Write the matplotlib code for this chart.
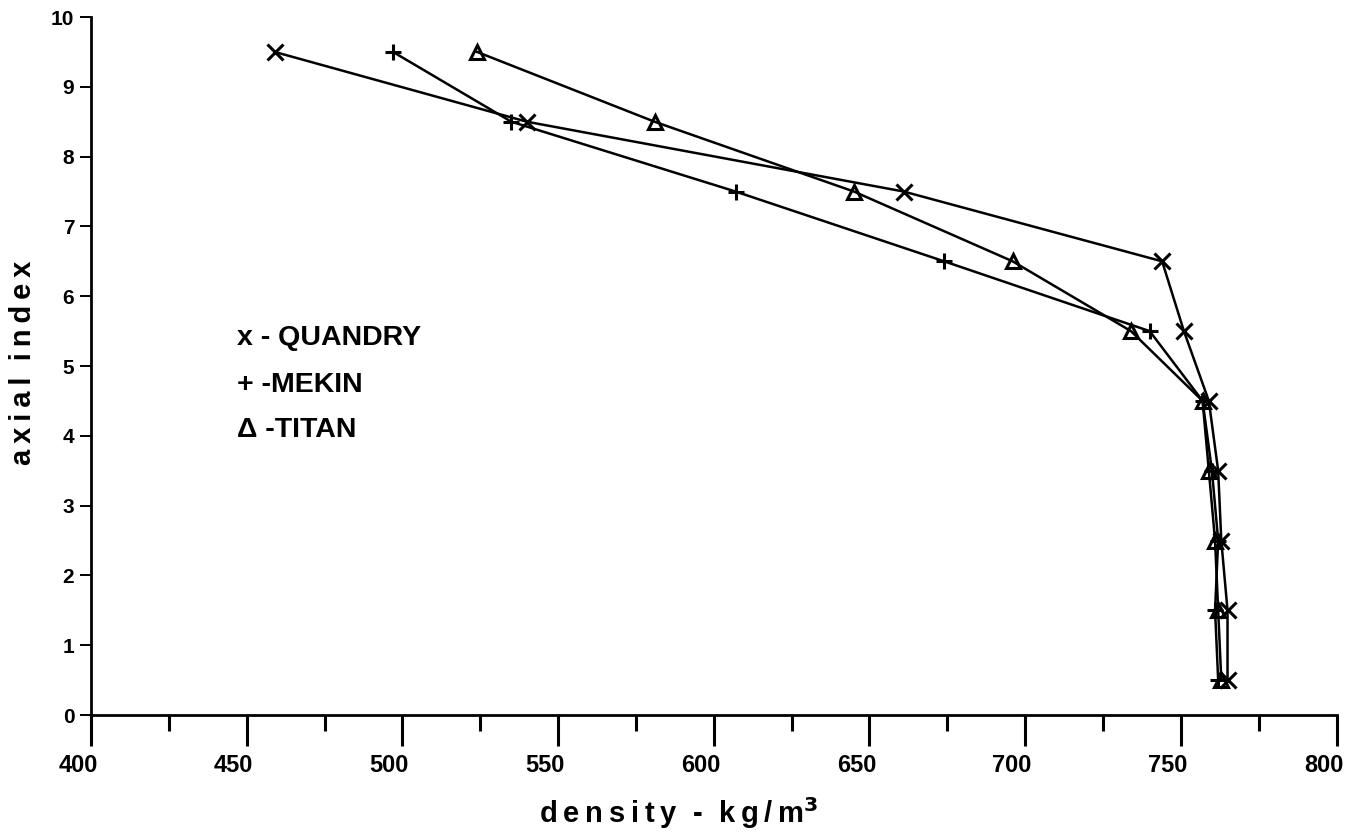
import matplotlib
matplotlib.use("Agg")
import matplotlib.pyplot as plt
import matplotlib.transforms as mtransforms
from matplotlib.ticker import MultipleLocator

# data
axial = [0.5, 1.5, 2.5, 3.5, 4.5, 5.5, 6.5, 7.5, 8.5, 9.5]
quandry = [765, 765, 763, 762, 759, 751, 744, 661, 540, 459]
mekin = [762, 761, 762, 760, 757, 740, 674, 607, 535, 497]
titan = [763, 762, 761, 759, 757, 734, 696, 645, 581, 524]
legend_labels = ["x - QUANDRY", "+ -MEKIN", "\u0394 -TITAN"]

fig = plt.figure(figsize=(13.5, 8.35), dpi=100)
ax = fig.add_axes([0.0674, 0.1437, 0.9226, 0.8359])

lw = 1.8
ax.plot(quandry, axial, color="black", lw=lw, marker="x", ms=11, mew=2.2)
ax.plot(mekin, axial, color="black", lw=lw, marker="+", ms=12, mew=2.2)
ax.plot(titan, axial, color="black", lw=lw, marker="^", ms=10, mew=2.2,
        mfc="none", mec="black")

ax.set_xlim(400, 800)
ax.set_ylim(0, 10)
for s in ["top", "right"]:
    ax.spines[s].set_visible(False)
for s in ["left", "bottom"]:
    ax.spines[s].set_linewidth(2)

ax.xaxis.set_major_locator(MultipleLocator(50))
ax.xaxis.set_minor_locator(MultipleLocator(25))
ax.yaxis.set_major_locator(MultipleLocator(1))
ax.tick_params(axis="x", which="major", direction="out", length=22, width=2.2, pad=6)
ax.tick_params(axis="x", which="minor", direction="out", length=11.5, width=2.2)
ax.tick_params(axis="y", which="major", direction="out", length=8, width=1.4, pad=4)

fam = ["Liberation Sans", "DejaVu Sans"]
shift = mtransforms.ScaledTranslation(-13 / 100, 0, fig.dpi_scale_trans)
for lab in ax.get_xticklabels():
    lab.set_fontfamily(fam); lab.set_fontweight("bold"); lab.set_fontsize(17)
    lab.set_transform(lab.get_transform() + shift)
for lab in ax.get_yticklabels():
    lab.set_fontfamily(fam); lab.set_fontweight("bold"); lab.set_fontsize(15)

ts = "\u2009"
xl = ts.join("density") + "  -  " + ts.join("kg/m") + "$^{\\mathbf{3}}$"
yl = ts.join("axial") + "  " + ts.join("index")
fig.text(0.503, 0.026, xl, ha="center", va="center",
         family=fam, weight="bold", size=21)
fig.text(0.017, 0.565, yl, ha="center", va="center", rotation=90,
         family=fam, weight="bold", size=21)

ys = [0.540, 0.473, 0.408]
for lab, yy in zip(legend_labels, ys):
    ax.text(0.117, yy, lab, transform=ax.transAxes, ha="left", va="center",
            family=fam, weight="bold", size=20.5)

fig.savefig("out.png", dpi=100)
